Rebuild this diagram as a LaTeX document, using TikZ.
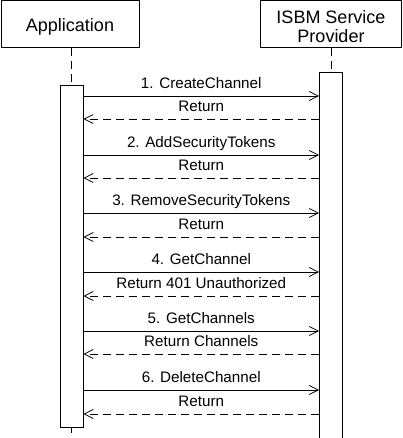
\documentclass[tikz,border=0pt]{standalone}
\usepackage{fontspec}
\setmainfont{Liberation Sans}
\usetikzlibrary{arrows.meta}

\tikzset{
  actor/.style={draw, minimum height=47pt},
  actortxt/.style={align=center, font=\fontsize{18}{19.5}\selectfont},
  bar/.style={draw, fill=white, minimum width=23pt, inner sep=0pt},
  lbl/.style={anchor=base, yshift=7.5pt, font=\fontsize{15.2}{18}\selectfont},
  ret/.style={dash pattern=on 8pt off 5pt},
  life/.style={dash pattern=on 8pt off 5pt}
}

\begin{document}
\begin{tikzpicture}[x=1pt, y=-1pt, line width=0.8pt, >={Straight Barb[length=9pt, width=9pt]}]
      \useasboundingbox (0,0) rectangle (402,438);
      \node[actor, minimum width=138pt] (app) at (70,24) {};
      \node[actor, minimum width=141pt] (isbm) at (331,24) {};
      \node[actortxt] (apptxt) at ([yshift=-2.5pt]app.center) {Application};
      \node[actortxt] (isbmtxt) at ([yshift=-2.5pt]isbm.center) {ISBM Service\\Provider};
      \coordinate (append) at (71.5,434);
      \draw[life] (app.south -| append) -- (append);
      \draw[life] (isbm.south) -- (331,80);
      \node[bar, minimum height=342pt] (appbar) at (71.5,256) {};
      \node[bar, minimum height=366pt] (isbmbar) at (331,255) {};

      % calls and returns
      \coordinate (m1a) at (appbar.east |- 0,96);  \coordinate (m1b) at (isbmbar.west |- 0,96);
      \coordinate (r1a) at (appbar.east |- 0,119); \coordinate (r1b) at (isbmbar.west |- 0,119);
      \coordinate (m2a) at (appbar.east |- 0,155); \coordinate (m2b) at (isbmbar.west |- 0,155);
      \coordinate (r2a) at (appbar.east |- 0,178); \coordinate (r2b) at (isbmbar.west |- 0,178);
      \coordinate (m3a) at (appbar.east |- 0,213); \coordinate (m3b) at (isbmbar.west |- 0,213);
      \coordinate (r3a) at (appbar.east |- 0,237); \coordinate (r3b) at (isbmbar.west |- 0,237);
      \coordinate (m4a) at (appbar.east |- 0,272); \coordinate (m4b) at (isbmbar.west |- 0,272);
      \coordinate (r4a) at (appbar.east |- 0,296); \coordinate (r4b) at (isbmbar.west |- 0,296);
      \coordinate (m5a) at (appbar.east |- 0,331); \coordinate (m5b) at (isbmbar.west |- 0,331);
      \coordinate (r5a) at (appbar.east |- 0,354); \coordinate (r5b) at (isbmbar.west |- 0,354);
      \coordinate (m6a) at (appbar.east |- 0,390); \coordinate (m6b) at (isbmbar.west |- 0,390);
      \coordinate (r6a) at (appbar.east |- 0,414); \coordinate (r6b) at (isbmbar.west |- 0,414);

      \draw[->] (m1a) -- node[lbl] {1. CreateChannel} (m1b);
      \draw[->, ret] (r1b) -- node[lbl] {Return} (r1a);
      \draw[->] (m2a) -- node[lbl] {2. AddSecurityTokens} (m2b);
      \draw[->, ret] (r2b) -- node[lbl] {Return} (r2a);
      \draw[->] (m3a) -- node[lbl] {3. RemoveSecurityTokens} (m3b);
      \draw[->, ret] (r3b) -- node[lbl] {Return} (r3a);
      \draw[->] (m4a) -- node[lbl] {4. GetChannel} (m4b);
      \draw[->, ret] (r4b) -- node[lbl] {Return 401 Unauthorized} (r4a);
      \draw[->] (m5a) -- node[lbl] {5. GetChannels} (m5b);
      \draw[->, ret] (r5b) -- node[lbl] {Return Channels} (r5a);
      \draw[->] (m6a) -- node[lbl] {6. DeleteChannel} (m6b);
      \draw[->, ret] (r6b) -- node[lbl] {Return} (r6a);
    \end{tikzpicture}
\end{document}
